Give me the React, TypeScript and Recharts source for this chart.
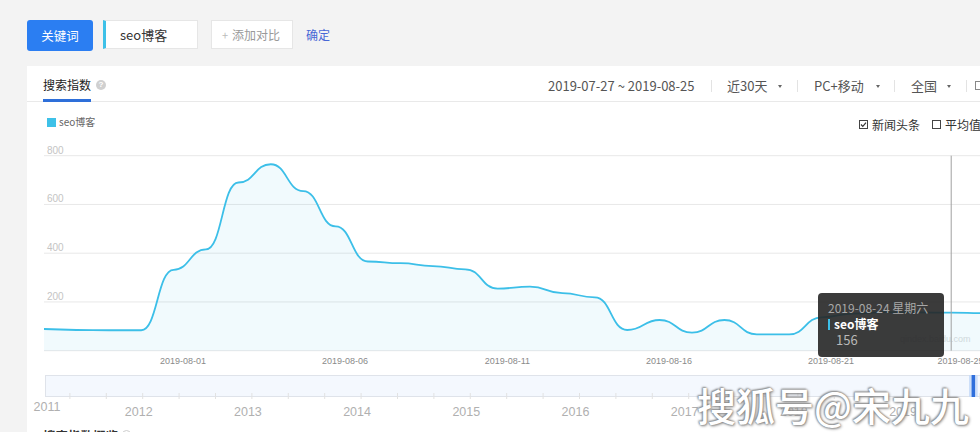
import React from 'react';
import {
  AreaChart,
  Area,
  XAxis,
  YAxis,
  CartesianGrid,
  Tooltip,
  ComposedChart,
  Line,
} from 'recharts';

// ---------------- data ----------------
const keyword = 'seo博客';
const dates = [
  '2019-07-27', '2019-07-28', '2019-07-29', '2019-07-30', '2019-07-31',
  '2019-08-01', '2019-08-02', '2019-08-03', '2019-08-04', '2019-08-05',
  '2019-08-06', '2019-08-07', '2019-08-08', '2019-08-09', '2019-08-10',
  '2019-08-11', '2019-08-12', '2019-08-13', '2019-08-14', '2019-08-15',
  '2019-08-16', '2019-08-17', '2019-08-18', '2019-08-19', '2019-08-20',
  '2019-08-21', '2019-08-22', '2019-08-23', '2019-08-24', '2019-08-25',
];
const values = [
  89, 85, 84, 84, 332,
  416, 690, 765, 655, 510,
  366, 359, 347, 334, 255,
  263, 236, 219, 85, 126,
  74, 126, 67, 67, 137,
  152, 158, 157, 156, 154,
];
const yTicks = [0, 200, 400, 600, 800];
const xLabelDates = ['2019-08-01', '2019-08-06', '2019-08-11', '2019-08-16', '2019-08-21', '2019-08-25'];
const overviewYears = [2011, 2012, 2013, 2014, 2015, 2016, 2017, 2018, 2019];
const tooltipIndex = 28;
const weekNames = ['星期日', '星期一', '星期二', '星期三', '星期四', '星期五', '星期六'];
const headerOptions = ['近30天', 'PC+移动', '全国'];

// ---------------- helpers ----------------
const FONT = '"Noto Sans CJK SC", "Microsoft YaHei", sans-serif';
const NUMFONT = '"Liberation Sans", Arial, sans-serif';
const LINE_COLOR = '#3cbfe8';

const toYear = (d: string) => {
  const dt = new Date(d + 'T00:00:00Z');
  const start = Date.UTC(dt.getUTCFullYear(), 0, 1);
  return dt.getUTCFullYear() + (dt.getTime() - start) / (365 * 86400000);
};
const weekOf = (d: string) => weekNames[new Date(d + 'T00:00:00Z').getUTCDay()];

const data = dates.map((d, i) => ({ date: d, value: values[i] }));

const OV_MIN = 2011.1053;
const OV_MAX = 2019.851;
const overviewTicks: number[] = [OV_MIN];
overviewYears.forEach((y) => {
  [0, 1 / 3, 2 / 3].forEach((f) => {
    const t = y + f;
    if (t > OV_MIN + 0.05 && t < OV_MAX) overviewTicks.push(t);
  });
});
const selStart = toYear(dates[0]);
const selEnd = toYear(dates[dates.length - 1]);
const selMid = (selStart + selEnd) / 2;
// selection window of the overview slider (range shown in the main chart)
const overviewData = [
  { t: selStart, sel: 1 },
  { t: selEnd, sel: 1 },
];
const handleData = [
  { t: selMid, h: 0 },
  { t: selMid, h: 1 },
];

// ---------------- ticks ----------------
const XTick = (props: any) => {
  const { x, y, payload } = props;
  if (!xLabelDates.includes(payload.value)) return <g />;
  return (
    <text x={x} y={y} dy={5} textAnchor="end" fontSize={9} fill="#8a8a8a" fontFamily={NUMFONT}>
      {payload.value}
    </text>
  );
};

const YTick = (props: any) => {
  const { y, payload } = props;
  if (payload.value === 0) return <g />;
  return (
    <text x={47} y={y - 2} fontSize={10} fill="#c4c4c4" fontFamily={NUMFONT}>
      {payload.value}
    </text>
  );
};

const OvTick = (props: any) => {
  const { x, y, payload } = props;
  const v = payload.value as number;
  const isStart = Math.abs(v - OV_MIN) < 1e-6;
  const isYear = Math.abs(v - Math.round(v)) < 1e-6;
  return (
    <g>
      {!isStart && <line x1={x} x2={x} y1={y - 4} y2={y + 2} stroke="#e2e2e2" strokeWidth={1} />}
      {isStart && (
        <text x={x + 2} y={y + 14} textAnchor="middle" fontSize={12.5} fill="#b0b0b0" fontFamily={NUMFONT}>
          {Math.floor(v)}
        </text>
      )}
      {isYear && !isStart && (
        <text x={x - 4} y={y + 19} textAnchor="middle" fontSize={12.5} fill="#b0b0b0" fontFamily={NUMFONT}>
          {Math.round(v)}
        </text>
      )}
    </g>
  );
};

const TipContent = (props: any) => {
  const { payload, label } = props;
  if (!payload || !payload.length) return null;
  const d = label as string;
  return (
    <div
      style={{
        width: 126,
        height: 64,
        boxSizing: 'border-box',
        background: 'rgba(38,38,38,0.9)',
        borderRadius: 4,
        padding: '7px 0 0 10px',
        fontFamily: FONT,
        position: 'relative',
      }}
    >
      <div style={{ fontSize: 12, color: '#a8a8a8', lineHeight: '16px', whiteSpace: 'nowrap' }}>
        {d} {weekOf(d)}
      </div>
      <div style={{ display: 'flex', alignItems: 'center', height: 16 }}>
        <div style={{ width: 2, height: 11, background: LINE_COLOR, marginRight: 4 }} />
        <div style={{ fontSize: 12, color: '#fff', fontWeight: 700, lineHeight: '16px' }}>{keyword}</div>
      </div>
      <div style={{ fontSize: 13, color: '#b8b8b8', lineHeight: '15px', paddingLeft: 8 }}>
        {payload[0].value}
      </div>
    </div>
  );
};

// ---------------- small UI pieces ----------------
const abs = (s: React.CSSProperties): React.CSSProperties => ({ position: 'absolute', ...s });

const Arrow = ({ left }: { left: number }) => (
  <div
    style={abs({
      left,
      top: 85,
      width: 0,
      height: 0,
      borderLeft: '2.5px solid transparent',
      borderRight: '2.5px solid transparent',
      borderTop: '3px solid #666',
    })}
  />
);
const Sep = ({ left }: { left: number }) => (
  <div style={abs({ left, top: 80, width: 1, height: 12, background: '#e3e3e3' })} />
);

export default function App() {
  const headerRange = `${dates[0]} ~ ${dates[dates.length - 1]}`;
  const optLeft = [727, 814, 911];
  const arrowLeft = [778, 876, 947];
  return (
    <div
      style={{
        position: 'absolute',
        left: 0,
        top: 0,
        width: 980,
        height: 432,
        overflow: 'hidden',
        background: '#f3f3f3',
        fontFamily: FONT,
      }}
    >
      {/* top toolbar */}
      <div
        style={abs({
          left: 27,
          top: 20,
          width: 66,
          height: 31,
          background: '#2b7ef2',
          borderRadius: 3,
          color: '#fff',
          fontSize: 12.5,
          lineHeight: '31px',
          textAlign: 'center',
        })}
      >
        关键词
      </div>
      <div
        style={abs({
          left: 103,
          top: 20,
          width: 95,
          height: 29,
          background: '#fff',
          border: '1px solid #e6e6e6',
          borderLeft: '3px solid #3ec1e8',
          boxSizing: 'border-box',
          fontSize: 13,
          lineHeight: '27px',
          paddingLeft: 14,
          color: '#333',
        })}
      >
        {keyword}
      </div>
      <div
        style={abs({
          left: 211,
          top: 20,
          width: 82,
          height: 29,
          background: '#fff',
          border: '1px solid #e6e6e6',
          boxSizing: 'border-box',
          fontSize: 12,
          lineHeight: '27px',
          color: '#999',
          paddingLeft: 10,
          whiteSpace: 'nowrap',
        })}
      >
        <span style={{ fontSize: 11, color: '#bbb', marginRight: 4 }}>+</span>添加对比
      </div>
      <div style={abs({ left: 306, top: 20, height: 29, lineHeight: '29px', fontSize: 12, color: '#4767d6' })}>确定</div>

      {/* card */}
      <div style={abs({ left: 27, top: 66, width: 1000, height: 400, background: '#fff' })} />
      <div style={abs({ left: 27, top: 101, width: 1000, height: 1, background: '#e9e9e9' })} />
      <div style={abs({ left: 43, top: 76, fontSize: 12, lineHeight: '18px', color: '#222' })}>搜索指数</div>
      <div
        style={abs({
          left: 96,
          top: 80,
          width: 10,
          height: 10,
          borderRadius: 5,
          background: '#d0d0d0',
          color: '#fff',
          fontSize: 8,
          lineHeight: '10px',
          textAlign: 'center',
          fontFamily: NUMFONT,
          fontWeight: 700,
        })}
      >
        ?
      </div>
      <div style={abs({ left: 43, top: 99, width: 48, height: 3, background: '#2e6fd9' })} />

      {/* header right */}
      <div style={abs({ left: 548, top: 77, fontSize: 13, lineHeight: '18px', color: '#555', whiteSpace: 'nowrap' })}>
        {headerRange}
      </div>
      <Sep left={711} />
      {headerOptions.map((o, i) => (
        <div key={o} style={abs({ left: optLeft[i], top: 77, fontSize: 13, lineHeight: '18px', color: '#555', whiteSpace: 'nowrap' })}>
          {o}
        </div>
      ))}
      {arrowLeft.map((l) => (
        <Arrow key={l} left={l} />
      ))}
      <Sep left={797} />
      <Sep left={894} />
      <Sep left={966} />
      <div style={abs({ left: 975, top: 81, width: 9, height: 9, border: '1px solid #888', boxSizing: 'border-box' })} />

      {/* legend + options */}
      <div style={abs({ left: 47, top: 118, width: 9, height: 9, background: '#3ec1e8' })} />
      <div style={abs({ left: 59, top: 115, fontSize: 10, lineHeight: '14px', color: '#666' })}>{keyword}</div>
      <svg style={abs({ left: 859, top: 120 })} width={9} height={9}>
        <rect x={0.5} y={0.5} width={8} height={8} fill="#fff" stroke="#444" strokeWidth={1} />
        <path d="M2 4.5 L3.8 6.3 L7 2.6" fill="none" stroke="#333" strokeWidth={1.2} />
      </svg>
      <div style={abs({ left: 872, top: 116, fontSize: 12, lineHeight: '17px', color: '#333' })}>新闻头条</div>
      <div style={abs({ left: 932, top: 120, width: 9, height: 9, border: '1px solid #444', boxSizing: 'border-box' })} />
      <div style={abs({ left: 945, top: 116, fontSize: 12, lineHeight: '17px', color: '#333', whiteSpace: 'nowrap' })}>平均值</div>

      {/* faint site watermark */}
      <div style={abs({ left: 900, top: 333, fontSize: 9, lineHeight: '12px', color: '#dcdcdc', fontFamily: NUMFONT })}>
        qindex.baidu.com
      </div>

      {/* main chart */}
      <div style={abs({ left: 0, top: 140 })}>
        <AreaChart
          width={1000}
          height={225}
          data={data}
          margin={{ top: 15.7, right: 16.4, bottom: 0, left: 43 }}
        >
          <CartesianGrid horizontal vertical={false} stroke="#e8e8e8" />
          <XAxis
            dataKey="date"
            interval={0}
            height={14.3}
            axisLine={false}
            tickLine={false}
            tick={<XTick />}
          />
          <YAxis
            width={1}
            domain={[0, 800]}
            ticks={yTicks}
            interval={0}
            axisLine={false}
            tickLine={false}
            tick={<YTick />}
          />
          <Tooltip
            active
            defaultIndex={tooltipIndex}
            position={{ x: 818, y: 153 }}
            content={<TipContent />}
            cursor={{ stroke: '#a0a0a0', strokeWidth: 1 }}
            isAnimationActive={false}
            wrapperStyle={{ outline: 'none' }}
          />
          <Area
            type="bumpX"
            dataKey="value"
            stroke={LINE_COLOR}
            strokeWidth={1.8}
            fill={LINE_COLOR}
            fillOpacity={0.07}
            dot={false}
            activeDot={false}
            isAnimationActive={false}
          />
        </AreaChart>
      </div>

      {/* overview slider */}
      <div
        style={abs({
          left: 45,
          top: 375,
          width: 960,
          height: 22,
          background: '#f4f8fe',
          border: '1px solid #dfe3ea',
          boxSizing: 'border-box',
        })}
      />
      <div style={abs({ left: 0, top: 370 })}>
        <ComposedChart width={1000} height={62} data={overviewData} margin={{ top: 5, right: 0, bottom: 0, left: 45 }}>
          <XAxis
            dataKey="t"
            type="number"
            domain={[OV_MIN, OV_MAX]}
            allowDataOverflow
            ticks={overviewTicks}
            interval={0}
            height={35}
            axisLine={false}
            tickLine={false}
            tickSize={0}
            tickMargin={0}
            tick={<OvTick />}
          />
          <YAxis hide type="number" domain={[0, 1]} />
          <Area
            type="linear"
            dataKey="sel"
            stroke="none"
            fill="#c9dcf8"
            fillOpacity={0.9}
            dot={false}
            activeDot={false}
            isAnimationActive={false}
          />
          <Line
            data={handleData}
            type="linear"
            dataKey="h"
            stroke="#2f6fdc"
            strokeWidth={3.5}
            dot={false}
            activeDot={false}
            isAnimationActive={false}
          />
        </ComposedChart>
      </div>

      {/* next section title, cut off */}
      <div style={abs({ left: 43, top: 427, fontSize: 12.5, lineHeight: '18px', color: '#333', fontWeight: 700 })}>
        搜索指数概览
      </div>
      <div style={abs({ left: 122, top: 430, width: 9, height: 9, borderRadius: 5, border: '1px solid #ccc', boxSizing: 'border-box' })} />

      {/* big watermark */}
      <div
        style={abs({
          left: 697,
          top: 383,
          fontSize: 39,
          lineHeight: '42px',
          color: '#ffffff',
          whiteSpace: 'nowrap',
          fontWeight: 500,
          textShadow: '0 0 2px #777, 1px 1px 3px #888, -1px -1px 2px #999',
        })}
      >
        搜狐号@宋九九
      </div>
    </div>
  );
}
